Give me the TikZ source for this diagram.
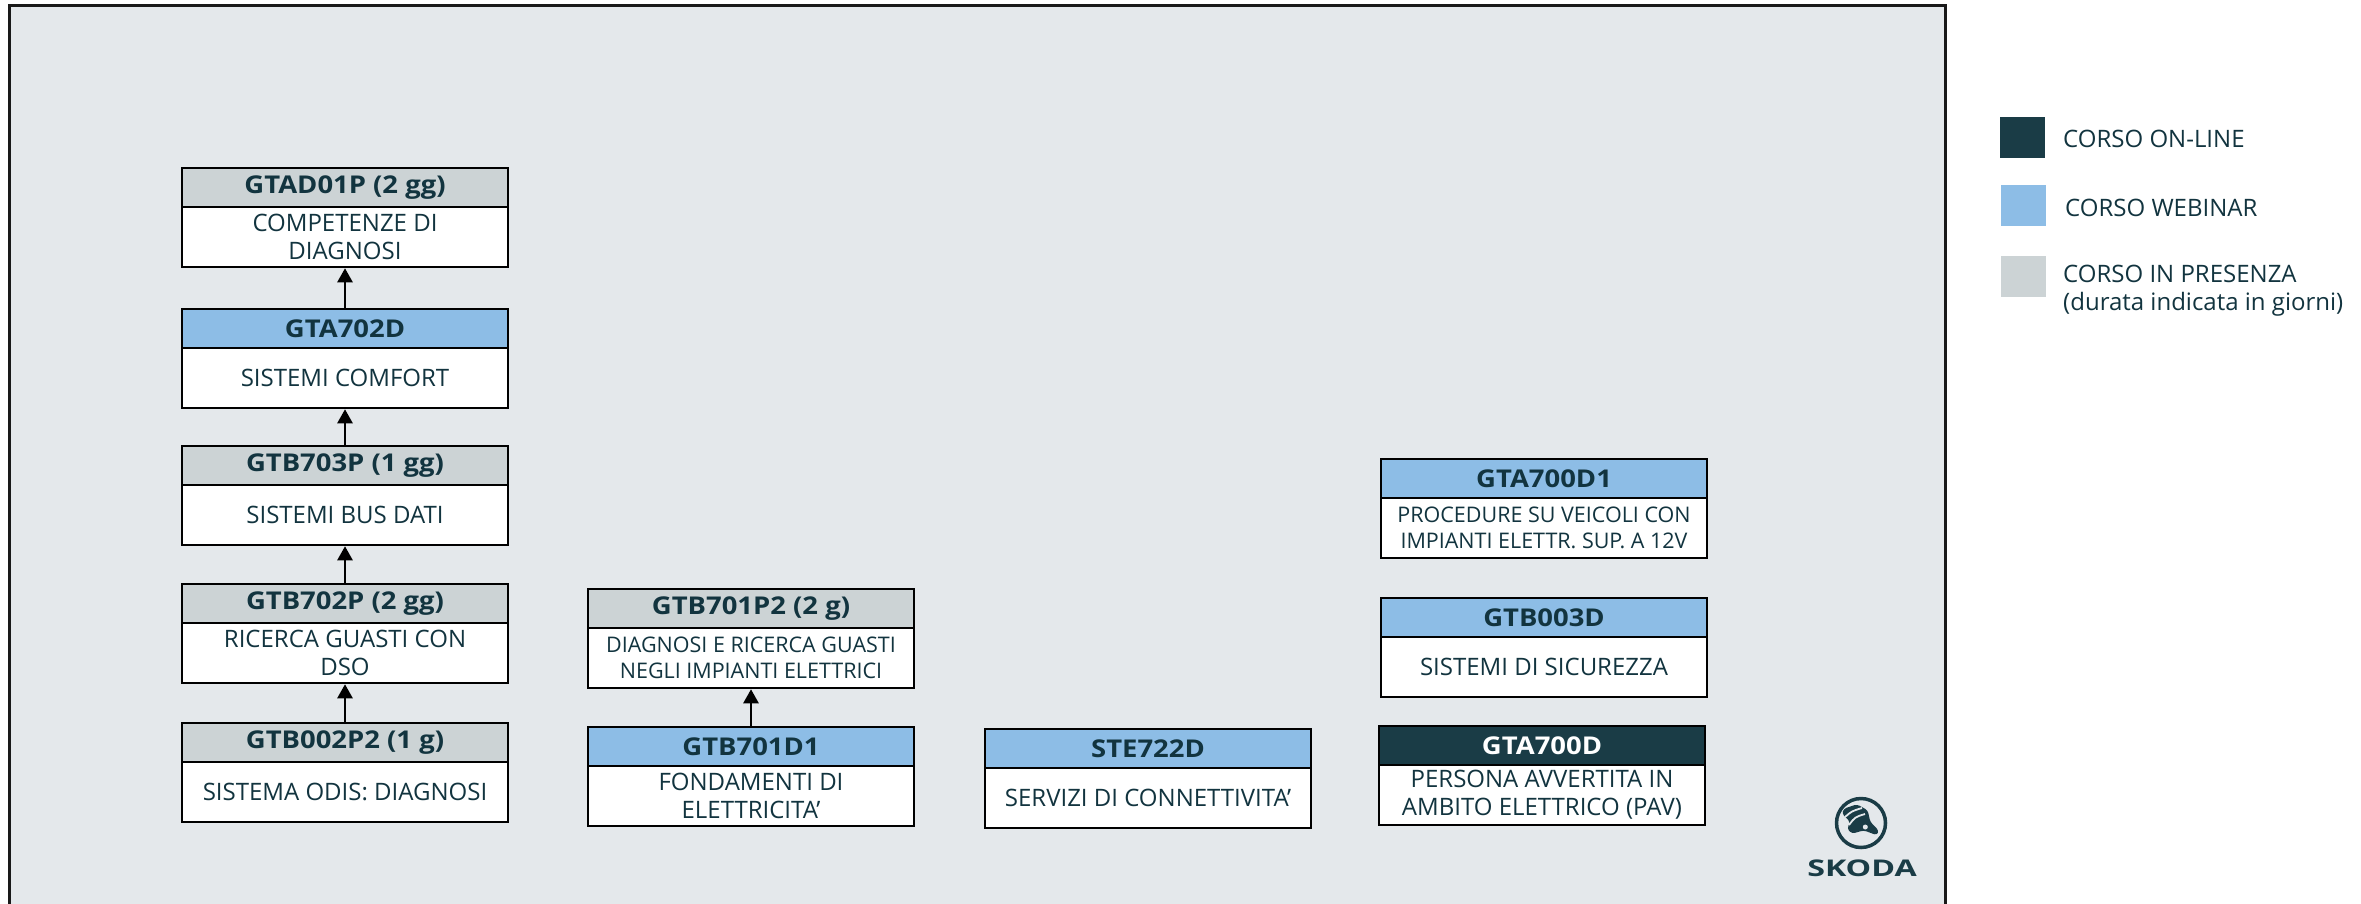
\documentclass[tikz,border=0pt]{standalone}
\usepackage{fontspec}
\setmainfont{Open Sans}
\usetikzlibrary{arrows.meta}
\definecolor{panel}{HTML}{E4E8EB}
\definecolor{hgray}{HTML}{CCD3D5}
\definecolor{hblue}{HTML}{8DBDE6}
\definecolor{hdark}{HTML}{1A3C46}
\definecolor{txt}{HTML}{12343F}
\tikzset{
 boxbase/.style={draw=black, line width=2.5pt, minimum width=326pt, inner sep=0pt, text=txt, align=center},
 hdr/.style={boxbase, minimum height=39pt, font=\fontsize{24.5}{28}\selectfont\bfseries\addfontfeature{FakeStretch=1.12}},
 pres/.style={fill=hgray},
 web/.style={fill=hblue},
 onl/.style={fill=hdark, text=white},
 bdy/.style={boxbase, fill=white, minimum height=60pt, font=\fontsize{24}{28}\selectfont},
 bdysmall/.style={font=\fontsize{21.5}{25.7}\selectfont},
 prereq/.style={line width=2.5pt, -{Triangle[length=14pt,width=15pt]}},
 legbox/.style={minimum width=45pt, minimum height=41pt, inner sep=0pt},
 legtxt/.style={anchor=west, text=txt, font=\fontsize{24}{28}\selectfont, inner sep=0pt, align=left},
}
\newcommand{\course}[7]{%
 \node[hdr,#4] (#1h) at (#2,#3+19.5) {#5};
 \node[bdy,#7] (#1b) at (#2,#3+69) {#6};}
\begin{document}
\begin{tikzpicture}[x=1pt,y=-1pt]
\useasboundingbox (0,0) rectangle (2361,903);
\clip (0,0) rectangle (2361,903);
\fill[white] (0,0) rectangle (2361,903);
\fill[panel] (9.5,5.5) rectangle (1945,910);
\draw[line width=3pt, black!90] (9.5,910) -- (9.5,5.5) -- (1945,5.5) -- (1945,910);

\course{a1}{345}{168}{pres}{GTAD01P (2 gg)}{COMPETENZE DI\\DIAGNOSI}{}
\course{a2}{345}{309}{web}{GTA702D}{SISTEMI COMFORT}{}
\course{a3}{345}{446}{pres}{GTB703P (1 gg)}{SISTEMI BUS DATI}{}
\course{a4}{345}{584}{pres}{GTB702P (2 gg)}{RICERCA GUASTI CON\\DSO}{}
\course{a5}{345}{723}{pres}{GTB002P2 (1 g)}{SISTEMA ODIS: DIAGNOSI}{}
\course{b1}{751}{589}{pres}{GTB701P2 (2 g)}{DIAGNOSI E RICERCA GUASTI\\NEGLI IMPIANTI ELETTRICI}{bdysmall}
\course{b2}{751}{727}{web}{GTB701D1}{FONDAMENTI DI\\ELETTRICITA’}{}
\course{c1}{1148}{729}{web}{STE722D}{SERVIZI DI CONNETTIVITA’}{}
\course{d1}{1544}{459}{web}{GTA700D1}{PROCEDURE SU VEICOLI CON\\IMPIANTI ELETTR. SUP. A 12V}{bdysmall}
\course{d2}{1544}{598}{web}{GTB003D}{SISTEMI DI SICUREZZA}{}
\course{d3}{1542}{726}{onl}{GTA700D}{PERSONA AVVERTITA IN\\AMBITO ELETTRICO (PAV)}{}

\draw[prereq] (a5h.north) -- (a4b.south);
\draw[prereq] (a4h.north) -- (a3b.south);
\draw[prereq] (a3h.north) -- (a2b.south);
\draw[prereq] (a2h.north) -- (a1b.south);
\draw[prereq] (b2h.north) -- (b1b.south);

\node[legbox, fill=hdark] (l1) at (2022,137) {};
\node[legbox, fill=hblue] (l2) at (2023,205.5) {};
\node[legbox, fill=hgray] (l3) at (2023,276) {};
\node[legtxt] (t1) at (2063,139) {CORSO ON-LINE};
\node[legtxt] (t2) at (2065,208) {CORSO WEBINAR};
\node[legtxt] (t3) at (2063,291) {CORSO IN PRESENZA\\(durata indicata in giorni)};

\begin{scope}[shift={(1861,823)}]
\draw[hdark, line width=3.5pt] (0,0) circle (24.5);
\fill[hdark, rounded corners=3pt] (-17.3,-14.3) -- (-4,-18.7) -- (6.7,-12.7) -- (9.3,-1) -- (17.7,7.3) -- (16,12.3) -- (2.7,7.3) -- (-9,10.7) -- (-14,5.7) -- (-10.7,-1) -- (-19,-9.3) -- cycle;
\draw[panel, line width=1.8pt] (-16,-6) .. controls (-9,-12) .. (1,-15);
\draw[panel, line width=1.8pt] (-12,2) .. controls (-6,-6) .. (4,-9);
\fill[panel] (4.3,4) circle (2.5);
\end{scope}
\node[font=\fontsize{23}{23}\selectfont\bfseries, text=hdark, inner sep=0pt] (logo) at (1862,868) {\scalebox{1.4}[1]{SKODA}};
\end{tikzpicture}
\end{document}
